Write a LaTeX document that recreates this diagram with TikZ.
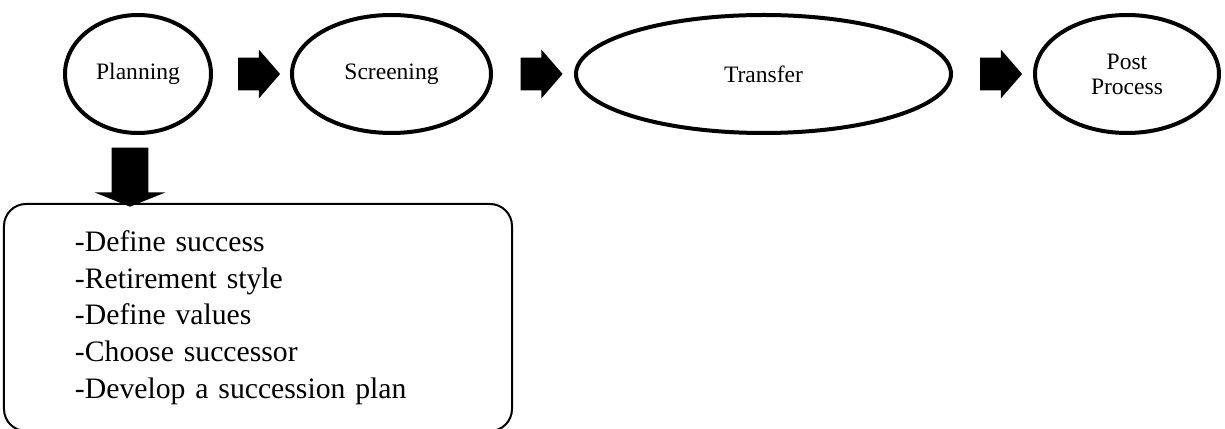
\documentclass[tikz,border=0pt]{standalone}
\usepackage{fontspec}
\setmainfont{Liberation Serif}
\usetikzlibrary{shapes.geometric,shapes.arrows}

\begin{document}
\begin{tikzpicture}[auto]
\tikzstyle{phase} = [ellipse, draw, line width=0.08cm, inner sep=0pt,
    minimum height=2.36cm, align=center, font=\fontsize{13.4pt}{14.2pt}\selectfont]
\tikzstyle{goarrow} = [single arrow, fill=black, inner xsep=0pt, inner ysep=0.32cm,
    single arrow head extend=0.16cm, single arrow tip angle=98, minimum height=0.84cm]
\tikzstyle{downarrow} = [single arrow, fill=black, inner xsep=0pt, inner ysep=0.36cm,
    single arrow head extend=0.34cm, single arrow tip angle=136, minimum height=1.18cm, rotate=-90]
\tikzstyle{tasks} = [rectangle, draw, line width=0.04cm, rounded corners=0.44cm,
    minimum width=10.16cm, minimum height=4.54cm, inner xsep=1.42cm, text width=7.32cm,
    align=left, font=\fontsize{16.9pt}{20.9pt}\selectfont]

\useasboundingbox (-2.76,1.48) rectangle (21.74,-7.1);

\node [phase, minimum width=2.92cm] (plan) {Planning};
\node [goarrow, right of=plan, node distance=2.28cm] (arr1) {};
\node [phase, right of=plan, node distance=5.07cm, minimum width=3.98cm] (screen) {Screening};
\node [goarrow, right of=screen, node distance=2.86cm] (arr2) {};
\node [phase, right of=screen, node distance=7.44cm, minimum width=7.5cm] (transfer) {Transfer};
\node [goarrow, right of=transfer, node distance=4.61cm] (arr3) {};
\node [phase, right of=transfer, node distance=7.27cm, minimum width=3.68cm] (post) {Post\\Process};
%
\coordinate [below of=plan, node distance=1.99cm, xshift=-0.16cm] (down);
\node [downarrow] at (down) (arr4) {};
\node [tasks, below of=plan, node distance=4.87cm, xshift=2.4cm] (todo)
    {-Define success\\-Retirement style\\-Define values\\-Choose successor\\-Develop a succession plan};

\end{tikzpicture}
\end{document}
